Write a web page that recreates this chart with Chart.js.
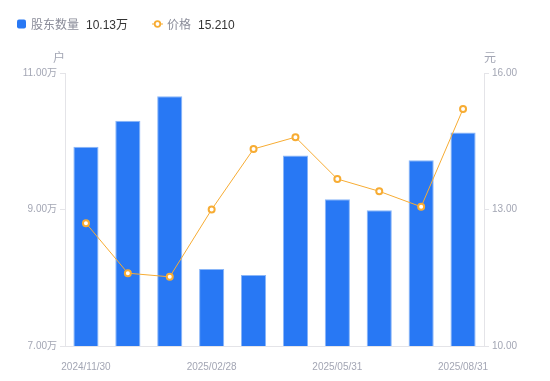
<!DOCTYPE html>
<html>
<head>
<meta charset="utf-8">
<script src="https://cdn.jsdelivr.net/npm/chart.js@4/dist/chart.umd.min.js"></script>
<style>
html,body{margin:0;padding:0;background:#fff;}
#wrap{width:550px;height:381px;position:relative;}
</style>
</head>
<body>
<div id="wrap"><canvas id="c" width="550" height="381"></canvas></div>
<script>
const categories = ['2024/11/30','2024/12/31','2025/01/24','2025/02/28','2025/03/31','2025/04/30','2025/05/31','2025/06/30','2025/07/31','2025/08/31'];
const holders = [9.92, 10.30, 10.66, 8.13, 8.04, 9.79, 9.15, 8.99, 9.72, 10.13];
const prices = [12.70, 11.60, 11.52, 13.00, 14.33, 14.59, 13.67, 13.40, 13.06, 15.21];
const leftTicks = [7, 9, 11];
const rightTicks = [10, 13, 16];
const seriesNames = ['股东数量', '价格'];
const axisTitles = ['户', '元'];

const FONT = '"Liberation Sans", Arial, "Noto Sans CJK SC", sans-serif';
const TICK_COLOR = '#a3a6b4';
const AXIS_COLOR = '#e4e4e8';
const BAR_COLOR = '#2878f4';
const LINE_COLOR = '#f7ac33';

const overlay = {
  id: 'overlay',
  afterDraw(chart) {
    const ctx = chart.ctx;
    const ca = chart.chartArea;
    ctx.save();
    ctx.textBaseline = 'middle';
    // axis titles
    ctx.font = '12px ' + FONT;
    ctx.fillStyle = TICK_COLOR;
    ctx.textAlign = 'center';
    ctx.fillText(axisTitles[0], ca.left - 6, 59);
    ctx.fillText(axisTitles[1], ca.right + 6, 59);
    // legend
    ctx.textAlign = 'left';
    const ly = 26;
    ctx.fillStyle = BAR_COLOR;
    ctx.beginPath();
    ctx.roundRect(17, 19.5, 9, 9, 2);
    ctx.fill();
    ctx.font = '12px ' + FONT;
    ctx.fillStyle = '#8a8c99';
    ctx.fillText(seriesNames[0], 31, ly);
    let x = 31 + ctx.measureText(seriesNames[0]).width + 7;
    ctx.fillStyle = '#333';
    ctx.fillText(holders[holders.length - 1].toFixed(2) + '万', x, ly);
    // line legend
    const iy = 24;
    ctx.strokeStyle = LINE_COLOR;
    ctx.lineWidth = 1;
    ctx.beginPath();
    ctx.moveTo(152, iy); ctx.lineTo(163, iy); ctx.stroke();
    ctx.beginPath();
    ctx.arc(157.5, iy, 2.8, 0, Math.PI * 2);
    ctx.fillStyle = '#fff'; ctx.fill();
    ctx.lineWidth = 1.8; ctx.stroke();
    ctx.fillStyle = '#8a8c99';
    ctx.fillText(seriesNames[1], 167, ly);
    x = 167 + ctx.measureText(seriesNames[1]).width + 7;
    ctx.fillStyle = '#333';
    ctx.fillText(prices[prices.length - 1].toFixed(3), x, ly);
    ctx.restore();
  }
};

new Chart(document.getElementById('c'), {
  data: {
    labels: categories,
    datasets: [
      {
        type: 'line', label: seriesNames[1], data: prices, yAxisID: 'y1', order: 0,
        borderColor: LINE_COLOR, borderWidth: 1, tension: 0,
        pointRadius: 3, pointBorderWidth: 2, pointBackgroundColor: '#fff', pointBorderColor: LINE_COLOR
      },
      {
        type: 'bar', label: seriesNames[0], data: holders, yAxisID: 'y', order: 1,
        backgroundColor: BAR_COLOR, borderColor: '#8ab6f8', borderWidth: {left: 1, right: 1, top: 1, bottom: 0},
        categoryPercentage: 1, barPercentage: 0.6
      }
    ]
  },
  options: {
    responsive: false, animation: false,
    layout: {padding: {top: 73, left: 0, right: 0, bottom: 0}},
    plugins: {legend: {display: false}, tooltip: {enabled: false}},
    scales: {
      x: {
        grid: {display: false},
        border: {display: true, color: AXIS_COLOR, width: 1},
        ticks: {
          autoSkip: false, maxRotation: 0, padding: 7, color: TICK_COLOR,
          font: {size: 10, family: FONT},
          callback: function(v, i) { return i % 3 === 0 ? categories[i] : ''; }
        },
        afterFit(s) { s.height = 35; }
      },
      y: {
        position: 'left', min: leftTicks[0], max: leftTicks[leftTicks.length - 1],
        afterBuildTicks(s) { s.ticks = leftTicks.map(v => ({value: v})); },
        grid: {drawOnChartArea: false, drawTicks: true, tickLength: 5, color: AXIS_COLOR},
        border: {display: true, color: AXIS_COLOR, width: 1},
        ticks: {padding: 3, color: TICK_COLOR, font: {size: 10, family: FONT},
          callback: v => Number(v).toFixed(2) + '万'},
        afterFit(s) { s.width = 65; }
      },
      y1: {
        position: 'right', min: rightTicks[0], max: rightTicks[rightTicks.length - 1],
        afterBuildTicks(s) { s.ticks = rightTicks.map(v => ({value: v})); },
        grid: {drawOnChartArea: false, drawTicks: true, tickLength: 5, color: AXIS_COLOR},
        border: {display: true, color: AXIS_COLOR, width: 1},
        ticks: {padding: 3, color: TICK_COLOR, font: {size: 10, family: FONT},
          callback: v => Number(v).toFixed(2)},
        afterFit(s) { s.width = 66; }
      }
    }
  },
  plugins: [overlay]
});
</script>
</body>
</html>
